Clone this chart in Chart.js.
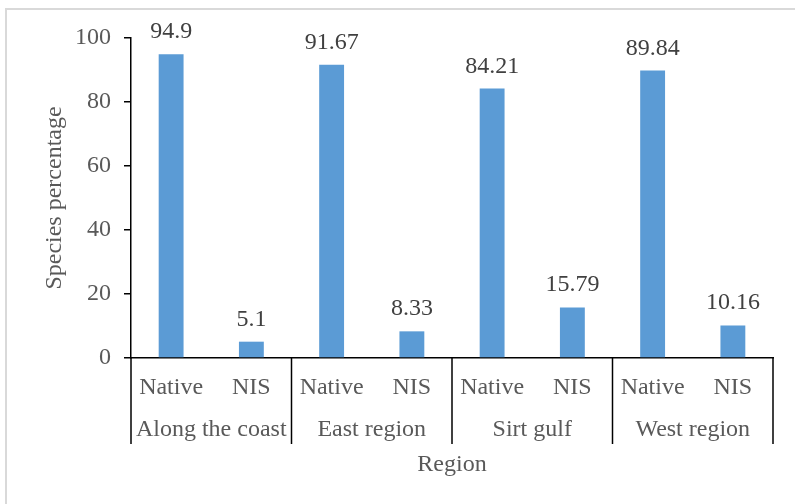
<!DOCTYPE html>
<html>
<head>
<meta charset="utf-8">
<script src="https://cdn.jsdelivr.net/npm/chart.js@4/dist/chart.umd.min.js"></script>
<style>
  html, body { margin: 0; padding: 0; background: #fff; }
  #wrap { position: relative; width: 795px; height: 504px; }
  #frame { position: absolute; left: 5px; top: 8px; width: 800px; height: 510px; border-left: 2px solid #d9d9d9; border-top: 2px solid #d9d9d9; box-sizing: border-box; pointer-events: none; }
  canvas { display: block; }
</style>
</head>
<body>
<div id="wrap">
  <canvas id="c" width="795" height="504"></canvas>
  <div id="frame"></div>
</div>
<script>
const groups = ['Along the coast', 'East region', 'Sirt gulf', 'West region'];
const subLabels = ['Native', 'NIS', 'Native', 'NIS', 'Native', 'NIS', 'Native', 'NIS'];
const values = [94.9, 5.1, 91.67, 8.33, 84.21, 15.79, 89.84, 10.16];
const valueLabels = ['94.9', '5.1', '91.67', '8.33', '84.21', '15.79', '89.84', '10.16'];
const yTicks = [0, 20, 40, 60, 80, 100];

const FONT = "'Liberation Serif'";
const FSIZE = 24;

const groupPlugin = {
  id: 'groups',
  afterDraw(chart) {
    const ctx = chart.ctx;
    const x = chart.scales.x;
    const area = chart.chartArea;
    const per = subLabels.length / groups.length;
    ctx.save();
    ctx.strokeStyle = '#000';
    ctx.lineWidth = 1.5;
    const bounds = [];
    for (let g = 0; g <= groups.length; g++) {
      let px;
      if (g === 0) px = area.left;
      else if (g === groups.length) px = area.right;
      else px = (x.getPixelForValue(g * per - 1) + x.getPixelForValue(g * per)) / 2;
      bounds.push(px);
      ctx.beginPath();
      ctx.moveTo(px, area.bottom);
      ctx.lineTo(px, area.bottom + 86);
      ctx.stroke();
    }
    ctx.fillStyle = '#595959';
    ctx.font = FSIZE + 'px ' + FONT;
    ctx.textAlign = 'center';
    ctx.textBaseline = 'middle';
    for (let g = 0; g < groups.length; g++) {
      ctx.fillText(groups[g], (bounds[g] + bounds[g + 1]) / 2, area.bottom + 72);
    }
    const meta = chart.getDatasetMeta(0);
    ctx.fillStyle = '#404040';
    ctx.textBaseline = 'alphabetic';
    meta.data.forEach((bar, i) => {
      ctx.fillText(valueLabels[i], bar.x, bar.y - 16);
    });
    ctx.restore();
  }
};

new Chart(document.getElementById('c'), {
  type: 'bar',
  data: {
    labels: subLabels,
    datasets: [{
      data: values,
      backgroundColor: '#5B9BD5',
      borderWidth: 0,
      categoryPercentage: 1,
      barPercentage: 0.31
    }]
  },
  options: {
    responsive: false,
    animation: false,
    events: [],
    layout: { padding: { left: 0, top: 38, right: 22, bottom: 0 } },
    plugins: { legend: { display: false }, tooltip: { enabled: false } },
    scales: {
      x: {
        grid: { display: false, drawTicks: false },
        border: { display: true, color: '#000', width: 1.5 },
        ticks: { color: '#595959', font: { family: FONT, size: FSIZE }, padding: 15, maxRotation: 0, autoSkip: false },
        title: { display: true, text: 'Region', color: '#595959', font: { family: FONT, size: FSIZE }, padding: { top: 0, bottom: 25 } },
        afterFit(s) { s.height = 146; }
      },
      y: {
        min: 0, max: 100,
        afterBuildTicks(s) { s.ticks = yTicks.map(v => ({ value: v })); },
        grid: { drawOnChartArea: false, drawTicks: true, tickLength: 7, color: '#000', lineWidth: 1.5 },
        border: { display: true, color: '#000', width: 1.5 },
        ticks: { color: '#595959', font: { family: FONT, size: FSIZE }, padding: 13 },
        title: { display: true, text: 'Species percentage', color: '#595959', font: { family: FONT, size: FSIZE }, padding: { top: 40, bottom: 0 } },
        afterFit(s) { s.width = 131; }
      }
    }
  },
  plugins: [groupPlugin]
});
</script>
</body>
</html>
